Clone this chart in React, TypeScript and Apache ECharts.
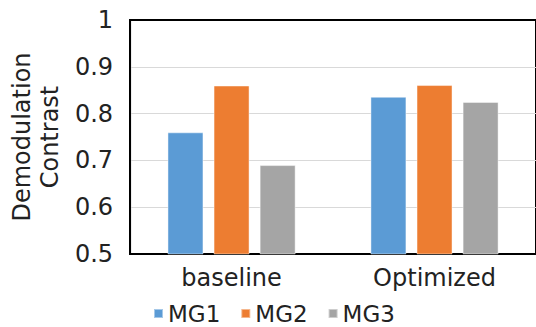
import React, { useEffect, useRef } from "react";
import * as echarts from "echarts";

const categories = ["baseline", "Optimized"];
const seriesNames = ["MG1", "MG2", "MG3"];
const mg1 = [0.76, 0.836];
const mg2 = [0.86, 0.861];
const mg3 = [0.69, 0.825];
const colors = ["#5B9BD5", "#ED7D31", "#A5A5A5"];
const yTicks = { min: 0.5, max: 1, interval: 0.1 };

const FONT = "DejaVu Sans";

export default function App() {
  const ref = useRef<HTMLDivElement>(null);
  useEffect(() => {
    if (!ref.current) return;
    const chart = echarts.init(ref.current, null, { renderer: "svg" });
    const values = [mg1, mg2, mg3];
    chart.setOption({
      animation: false,
      textStyle: { fontFamily: FONT },
      legend: {
        data: seriesNames,
        left: 153,
        top: 302,
        padding: 0,
        itemWidth: 9,
        itemHeight: 9,
        itemGap: 20,
        icon: "rect",
        textStyle: { fontFamily: FONT, fontSize: 23, color: "#222", lineHeight: 22, height: 22 },
      },
      grid: {
        left: 128,
        top: 20,
        width: 414,
        height: 234,
        show: true,
        borderColor: "#000",
        borderWidth: 2,
        containLabel: false,
      },
      xAxis: {
        type: "category",
        data: categories,
        axisLine: { lineStyle: { color: "#000", width: 2 } },
        axisTick: { show: false },
        axisLabel: { fontFamily: FONT, fontSize: 24, color: "#222", margin: 12 },
      },
      yAxis: {
        type: "value",
        min: yTicks.min,
        max: yTicks.max,
        interval: yTicks.interval,
        name: "Demodulation\nContrast",
        nameLocation: "middle",
        nameGap: 66,
        nameTextStyle: { fontFamily: FONT, fontSize: 24, color: "#222", lineHeight: 28 },
        axisLine: { show: true, lineStyle: { color: "#000", width: 2 } },
        axisTick: { show: false },
        axisLabel: {
          fontFamily: FONT,
          fontSize: 24,
          color: "#222",
          margin: 17,
          formatter: (v: number) => String(Math.round(v * 10) / 10),
        },
        splitLine: {
          show: true,
          showMinLine: false,
          showMaxLine: false,
          lineStyle: { color: "#d9d9d9", width: 1 },
        },
      },
      series: seriesNames.map((name, i) => ({
        name,
        type: "bar",
        data: values[i],
        barWidth: 36,
        barGap: "28%",
        itemStyle: {
          color: colors[i],
          borderColor: "rgba(255,255,255,0.45)",
          borderWidth: 1,
        },
      })),
    });
    return () => chart.dispose();
  }, []);
  return (
    <div
      ref={ref}
      style={{ position: "fixed", left: 0, top: 0, width: 536, height: 327, background: "#fff" }}
    />
  );
}
